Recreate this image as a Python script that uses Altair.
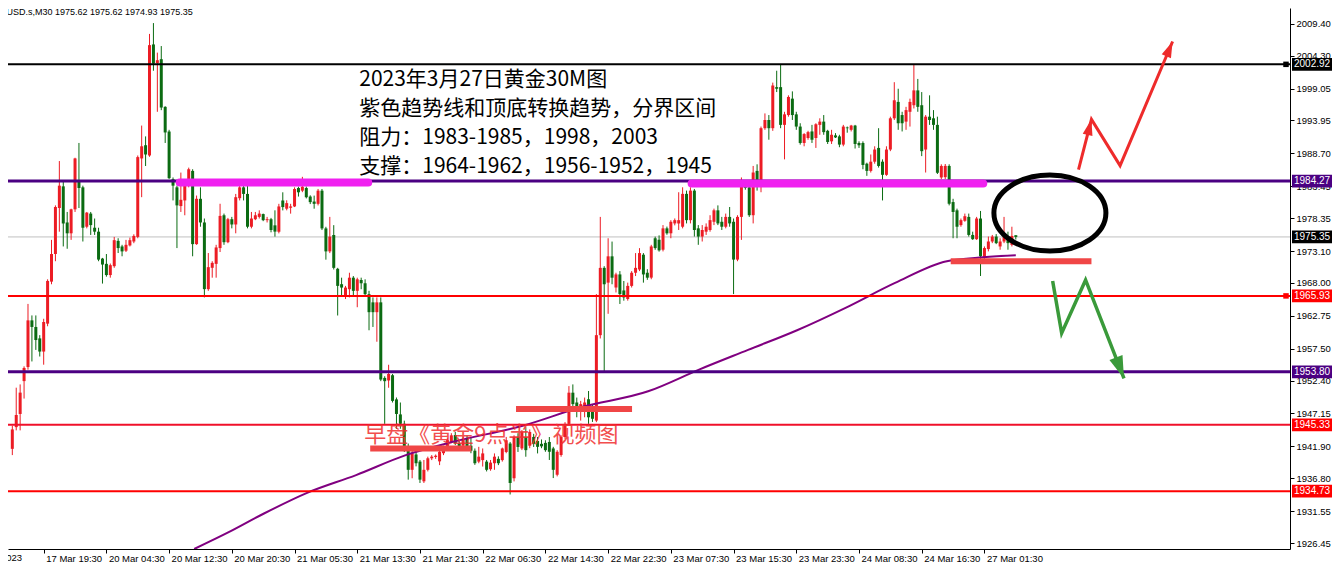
import altair as alt
import pandas as pd

# ---------------- candle data (XAUUSD M30), bar index -1 .. 255 ----------------
FIRST_BAR = -1
opens = [
1941.5, 1944.97, 1947.07, 1952.32, 1954.57, 1962.02, 1960.97, 1959.14, 1957.04, 1961.5,
1968.21, 1972.62, 1979.97, 1983.43, 1977.66, 1975.93, 1979.76, 1984.3, 1983.27, 1976.98,
1979.08, 1976.82, 1976.19, 1971.89, 1971.05, 1969.26, 1970.68, 1974.72, 1973.83, 1973.15,
1973.99, 1974.62, 1975.35, 1987.89, 1990.0, 1988.36, 2006.1, 2003.11, 2003.74, 1996.13,
1992.19, 1984.59, 1983.27, 1980.28, 1981.18, 1983.54, 1985.9, 1974.2, 1981.44, 1977.66,
1967.01, 1970.42, 1971.05, 1973.57, 1978.81, 1974.51, 1978.18, 1977.34, 1981.54, 1983.27,
1982.22, 1976.98, 1978.18, 1978.55, 1979.0, 1978.03, 1978.18, 1977.2, 1976.18, 1981.17,
1979.86, 1980.01, 1980.22, 1983.16, 1982.74, 1983.16, 1981.8, 1981.0, 1980.64, 1982.74,
1976.71, 1973.04, 1975.66, 1970.26, 1967.8, 1965.95, 1967.0, 1968.84, 1966.74, 1968.47,
1967.95, 1966.21, 1964.9, 1963.33, 1964.9, 1952.83, 1952.42, 1953.26, 1949.4, 1947.0,
1945.5, 1941.82, 1938.15, 1940.6, 1939.46, 1936.31, 1938.15, 1939.99, 1940.2, 1939.5,
1940.8, 1941.6, 1942.6, 1943.7, 1942.4, 1942.0, 1943.1, 1942.0, 1941.2, 1939.46,
1939.7, 1939.46, 1938.25, 1939.2, 1939.9, 1939.7, 1941.0, 1942.35, 1936.8, 1943.4,
1941.56, 1943.39, 1942.0, 1943.4, 1942.76, 1942.3, 1942.45, 1942.6, 1941.56, 1937.36,
1940.51, 1943.39, 1945.49, 1950.47, 1948.9, 1947.59, 1948.11, 1949.42, 1947.6, 1946.01,
1959.66, 1970.41, 1968.05, 1972.25, 1967.27, 1969.36, 1966.8, 1965.43, 1967.53, 1969.63,
1970.15, 1972.51, 1969.63, 1968.85, 1975.14, 1974.9, 1973.31, 1976.72, 1975.93, 1977.51,
1977.5, 1976.98, 1982.23, 1978.03, 1982.75, 1976.72, 1975.41, 1976.19, 1976.46, 1977.77,
1979.6, 1977.77, 1976.98, 1978.55, 1977.77, 1971.73, 1978.55, 1983.54, 1983.28, 1978.82,
1985.9, 1984.33, 1992.72, 1994.03, 1992.72, 1999.28, 1999.28, 1993.25, 1994.82, 1997.44,
1994.93, 1992.98, 1990.36, 1991.15, 1992.2, 1991.15, 1993.25, 1993.77, 1992.3, 1990.62,
1991.57, 1991.41, 1990.1, 1992.83, 1992.46, 1993.14, 1990.36, 1990.36, 1987.05, 1985.9,
1987.37, 1989.57, 1987.37, 1985.27, 1989.31, 1994.3, 1996.92, 1994.82, 1993.77, 1995.34,
1996.39, 1998.76, 1996.39, 1989.31, 1994.56, 1994.3, 1993.25, 1984.85, 1984.9, 1986.69,
1980.92, 1979.6, 1977.24, 1977.93, 1978.55, 1975.67, 1974.99, 1978.29, 1971.99, 1973.41,
1974.62, 1975.41, 1973.83, 1974.62, 1975.41, 1974.09, 1975.62,
]
highs = [
1945.2, 1951.27, 1951.79, 1954.68, 1964.65, 1962.81, 1962.81, 1959.66, 1962.28, 1968.58,
1974.88, 1980.39, 1987.47, 1984.32, 1979.34, 1979.86, 1988.0, 1990.36, 1983.54, 1979.34,
1979.34, 1978.29, 1976.82, 1972.0, 1972.62, 1971.1, 1975.35, 1975.14, 1974.09, 1974.88,
1975.24, 1975.77, 1988.36, 1993.14, 1991.41, 2007.78, 2009.51, 2004.79, 2005.84, 1996.23,
1992.46, 1984.85, 1983.54, 1985.63, 1983.8, 1986.42, 1986.16, 1981.96, 1983.27, 1978.29,
1972.78, 1971.47, 1974.09, 1980.65, 1979.08, 1978.39, 1978.55, 1982.22, 1983.8, 1983.54,
1983.54, 1979.34, 1979.34, 1979.6, 1979.08, 1978.55, 1978.39, 1979.6, 1980.64, 1982.48,
1981.2, 1980.64, 1983.27, 1983.37, 1984.95, 1983.4, 1982.0, 1981.95, 1983.01, 1983.01,
1976.97, 1978.55, 1977.23, 1970.41, 1968.84, 1967.53, 1969.63, 1969.1, 1968.84, 1968.84,
1968.58, 1966.74, 1965.69, 1965.69, 1965.69, 1953.1, 1954.93, 1953.46, 1949.7, 1948.9,
1946.0, 1942.35, 1941.3, 1941.2, 1939.72, 1939.72, 1940.25, 1940.5, 1940.6, 1941.3,
1942.0, 1943.2, 1944.0, 1944.2, 1943.0, 1943.4, 1943.6, 1943.3, 1941.56, 1941.82,
1941.56, 1939.72, 1939.72, 1940.77, 1940.3, 1941.7, 1943.4, 1942.6, 1943.66, 1944.0,
1944.5, 1944.96, 1944.6, 1943.9, 1943.39, 1943.0, 1942.87, 1943.39, 1941.82, 1941.29,
1943.65, 1945.76, 1951.52, 1951.79, 1949.69, 1949.16, 1949.69, 1950.74, 1948.64, 1966.22,
1978.55, 1970.68, 1975.14, 1974.61, 1969.63, 1969.89, 1968.31, 1968.05, 1969.89, 1972.77,
1973.56, 1972.77, 1970.2, 1974.09, 1975.4, 1975.6, 1977.24, 1977.0, 1978.03, 1978.3,
1982.49, 1983.28, 1982.75, 1983.28, 1983.01, 1977.24, 1977.24, 1977.51, 1978.82, 1979.87,
1980.39, 1978.55, 1979.08, 1980.13, 1978.29, 1978.82, 1984.85, 1984.0, 1984.06, 1986.69,
1986.95, 1992.98, 1995.08, 1994.82, 2000.0, 2001.9, 2002.95, 1995.34, 1997.97, 1998.6,
1995.34, 1993.51, 1991.93, 1992.3, 1993.25, 1993.51, 1994.3, 1994.82, 1992.46, 1992.46,
1991.93, 1991.67, 1993.25, 1992.98, 1993.25, 1993.25, 1990.62, 1990.62, 1987.21, 1988.52,
1989.83, 1992.72, 1987.74, 1989.83, 1994.56, 2000.07, 1999.02, 1995.34, 1996.13, 1997.44,
2002.95, 2000.59, 1998.49, 1994.82, 1997.97, 1995.61, 1994.56, 1986.95, 1987.0, 1986.95,
1981.44, 1979.87, 1978.29, 1979.08, 1979.08, 1976.19, 1978.55, 1979.5, 1973.83, 1975.41,
1975.67, 1975.8, 1975.14, 1978.55, 1976.19, 1976.98, 1975.62,
]
lows = [
1940.5, 1944.45, 1944.45, 1949.53, 1954.15, 1955.46, 1957.3, 1956.25, 1954.94, 1961.08,
1967.79, 1971.47, 1976.19, 1973.83, 1973.46, 1974.88, 1979.34, 1979.97, 1974.62, 1976.72,
1975.67, 1975.67, 1971.47, 1967.9, 1969.0, 1968.84, 1970.42, 1972.78, 1972.26, 1972.94,
1973.83, 1974.35, 1975.14, 1981.7, 1986.68, 1988.15, 2001.9, 1995.34, 1995.6, 1990.36,
1984.59, 1981.18, 1973.57, 1979.34, 1978.81, 1983.27, 1972.26, 1974.09, 1976.98, 1965.69,
1966.74, 1968.84, 1968.84, 1972.94, 1974.09, 1974.35, 1976.72, 1975.93, 1981.18, 1981.18,
1976.72, 1976.72, 1978.03, 1978.29, 1977.87, 1977.66, 1976.09, 1975.4, 1975.92, 1979.59,
1979.6, 1979.07, 1980.12, 1981.8, 1982.5, 1981.5, 1980.6, 1979.86, 1980.38, 1976.45,
1971.72, 1972.77, 1970.15, 1962.8, 1965.95, 1965.43, 1965.69, 1965.95, 1964.12, 1967.0,
1965.95, 1960.44, 1960.97, 1958.61, 1952.31, 1945.49, 1951.26, 1948.9, 1944.71, 1944.71,
1941.0, 1936.58, 1936.8, 1938.7, 1936.05, 1936.05, 1937.89, 1939.7, 1939.9, 1938.9,
1940.5, 1941.3, 1942.4, 1942.1, 1941.5, 1941.6, 1941.5, 1940.8, 1938.94, 1939.2,
1938.67, 1937.89, 1938.0, 1938.15, 1938.9, 1939.46, 1940.8, 1934.21, 1936.3, 1941.0,
1941.3, 1940.24, 1941.6, 1941.8, 1940.77, 1941.6, 1941.03, 1939.72, 1936.83, 1937.1,
1940.24, 1943.1, 1945.23, 1948.11, 1946.54, 1946.01, 1946.54, 1945.49, 1945.8, 1945.76,
1959.13, 1953.62, 1963.07, 1967.79, 1966.48, 1964.64, 1965.17, 1965.17, 1967.27, 1969.1,
1969.89, 1968.05, 1968.5, 1968.59, 1973.3, 1973.0, 1973.04, 1975.7, 1975.14, 1977.2,
1976.46, 1976.72, 1977.51, 1977.51, 1975.41, 1974.09, 1974.62, 1975.67, 1976.19, 1977.24,
1977.24, 1976.46, 1976.72, 1976.98, 1966.22, 1971.47, 1974.88, 1982.9, 1978.55, 1977.51,
1982.75, 1982.49, 1992.46, 1990.88, 1992.3, 1998.49, 1992.72, 1987.74, 1994.56, 1994.03,
1992.46, 1990.1, 1989.83, 1990.88, 1990.36, 1989.57, 1991.67, 1991.67, 1990.2, 1990.2,
1991.15, 1989.68, 1989.83, 1992.0, 1992.2, 1989.47, 1989.57, 1986.16, 1985.11, 1985.64,
1987.05, 1986.43, 1981.18, 1985.11, 1989.05, 1994.03, 1992.46, 1992.2, 1992.46, 1992.98,
1995.87, 1995.34, 1988.26, 1985.64, 1993.25, 1992.46, 1985.4, 1984.59, 1984.6, 1980.39,
1975.14, 1975.14, 1976.98, 1977.77, 1975.41, 1974.88, 1974.88, 1969.11, 1971.21, 1973.04,
1974.36, 1974.2, 1973.31, 1974.36, 1973.31, 1973.83, 1974.93,
]
closes = [
1944.6, 1946.91, 1950.48, 1954.42, 1962.02, 1960.97, 1958.88, 1957.04, 1961.76, 1968.32,
1972.62, 1980.13, 1983.54, 1977.5, 1975.93, 1979.76, 1987.89, 1983.17, 1976.82, 1979.23,
1977.24, 1976.19, 1971.73, 1970.94, 1969.26, 1970.84, 1974.83, 1973.57, 1973.04, 1974.09,
1974.83, 1975.51, 1988.1, 1989.83, 1988.52, 2005.99, 2003.05, 2003.58, 1996.02, 1992.04,
1984.74, 1983.54, 1980.39, 1981.28, 1983.54, 1986.16, 1974.2, 1981.44, 1977.66, 1967.01,
1970.52, 1971.21, 1973.67, 1978.71, 1974.51, 1978.18, 1977.34, 1981.7, 1983.27, 1982.22,
1976.98, 1978.29, 1978.81, 1979.08, 1978.03, 1978.18, 1976.46, 1976.2, 1980.22, 1980.12,
1980.75, 1980.22, 1983.01, 1982.48, 1983.37, 1981.69, 1980.91, 1980.64, 1982.74, 1976.71,
1973.04, 1975.4, 1970.41, 1967.53, 1967.26, 1967.26, 1968.84, 1966.74, 1968.58, 1967.95,
1966.21, 1963.33, 1963.33, 1964.9, 1952.57, 1952.31, 1953.46, 1949.16, 1947.07, 1945.5,
1941.82, 1938.15, 1940.77, 1939.2, 1936.58, 1938.15, 1939.99, 1940.25, 1940.4, 1941.03,
1941.8, 1942.9, 1943.66, 1942.4, 1941.8, 1943.1, 1941.8, 1941.2, 1939.2, 1940.25,
1940.77, 1938.15, 1939.3, 1940.25, 1939.2, 1941.56, 1942.87, 1936.05, 1943.4, 1941.8,
1944.18, 1941.29, 1944.2, 1942.3, 1941.82, 1941.9, 1941.29, 1941.03, 1938.15, 1941.03,
1943.39, 1945.49, 1950.47, 1948.64, 1948.01, 1948.64, 1948.9, 1946.54, 1946.3, 1959.66,
1970.41, 1967.79, 1972.25, 1968.84, 1969.36, 1966.22, 1965.69, 1967.53, 1969.63, 1970.41,
1972.77, 1969.36, 1968.84, 1973.83, 1973.57, 1973.2, 1976.72, 1975.93, 1977.77, 1978.03,
1978.03, 1982.23, 1978.03, 1982.75, 1976.46, 1975.41, 1976.46, 1976.98, 1978.03, 1979.6,
1977.51, 1976.98, 1978.55, 1977.51, 1971.73, 1978.55, 1983.54, 1983.2, 1978.82, 1985.64,
1984.33, 1992.72, 1994.03, 1992.72, 1999.54, 1999.02, 1993.25, 1994.93, 1997.71, 1994.82,
1992.98, 1990.36, 1991.78, 1992.09, 1990.88, 1993.35, 1993.77, 1992.09, 1990.52, 1991.67,
1991.25, 1990.1, 1992.98, 1992.72, 1993.14, 1990.2, 1989.99, 1986.85, 1985.9, 1987.37,
1989.31, 1986.69, 1985.27, 1989.31, 1994.3, 1997.18, 1993.51, 1993.51, 1995.61, 1996.92,
1998.76, 1996.13, 1989.05, 1994.56, 1994.03, 1993.25, 1985.6, 1986.69, 1986.7, 1980.65,
1979.34, 1976.98, 1978.03, 1978.66, 1975.67, 1974.99, 1978.29, 1972.26, 1973.57, 1974.62,
1975.41, 1974.36, 1974.62, 1975.41, 1974.36, 1975.51, 1975.35,
]

# purple moving average (read at sparse bars)
ma_bars = [45.4, 54.2, 63.2, 74.2, 86.7, 99.2, 111.7, 129.2, 144.2, 161.2, 174.2, 186.7, 199.2, 211.7, 224.2, 237.4, 246.7, 255]
ma_vals = [1925.50, 1928.18, 1931.17, 1934.47, 1937.31, 1940.46, 1942.66, 1945.18, 1948.17, 1950.69, 1954.16, 1957.31, 1960.45, 1964.07, 1968.01, 1971.47, 1972.10, 1972.41]

# horizontal levels
level_prices = [2002.92, 1984.27, 1965.93, 1953.80, 1945.33, 1934.73]
level_colors = ["#000000", "#4b0082", "#ff0000", "#4b0082", "#f0102a", "#ff0000"]
level_widths = [2, 3, 2, 3, 2, 2]
bid_price = 1975.35
marker_prices = [2002.92, 1965.93]
marker_colors = ["#000000", "#ff0000"]

# right-axis price tags
tag_prices = [2002.92, 1984.27, 1975.35, 1965.93, 1953.80, 1945.33, 1934.73]
tag_colors = ["#000000", "#4b0082", "#000000", "#ff0000", "#4b0082", "#ff0000", "#ff0000"]

# axis ticks
y_ticks = [2009.40, 2004.30, 1999.05, 1993.95, 1988.70, 1983.45, 1978.35, 1973.10, 1968.00,
           1962.75, 1957.50, 1952.40, 1947.15, 1941.90, 1936.80, 1931.55, 1926.45]
x_tick_bars = [7, 23, 39, 55, 71, 87, 103, 119, 135, 151, 167, 183, 199, 215, 231, 247]
x_tick_labels = ["17 Mar 19:30", "20 Mar 04:30", "20 Mar 12:30", "20 Mar 20:30", "21 Mar 05:30",
                 "21 Mar 13:30", "21 Mar 21:30", "22 Mar 06:30", "22 Mar 14:30", "22 Mar 22:30",
                 "23 Mar 07:30", "23 Mar 15:30", "23 Mar 23:30", "24 Mar 08:30", "24 Mar 16:30",
                 "27 Mar 01:30"]

# drawn annotations (bar index, price)
magenta_x1 = [41.7, 172.3]
magenta_x2 = [89.8, 246.7]
magenta_y = [1984.06, 1983.90]
redbar_x1 = [90.3, 127.5, 238.4]
redbar_x2 = [116.1, 157.1, 274.3]
redbar_y = [1941.56, 1947.86, 1971.47]
ellipse_center = (263.7, 1979.18)
red_arrow_x = [271.0, 274.3, 281.6, 295.0]
red_arrow_y = [1986.11, 1994.13, 1986.74, 2006.57]
green_arrow_x = [264.4, 266.7, 272.8, 282.6]
green_arrow_y = [1968.32, 1959.98, 1968.48, 1952.74]
head_x = [274.3, 295.0, 282.6]
head_y = [1994.13, 2006.57, 1952.74]
head_angle = [14, 23, 159]
head_size = [400, 400, 784]
head_color = ["#ee2b2b", "#ee2b2b", "#3a9a3a"]

note_lines = ["2023年3月27日黄金30M图", "紫色趋势线和顶底转换趋势，分界区间",
              "阻力：1983-1985，1998，2003", "支撑：1964-1962，1956-1952，1945"]
note_y = [2000.43, 1995.71, 1991.14, 1986.58]
note_x = 87.5
overlay_text = "早盘《黄金9点半》视频图"
overlay_pos = (88.8, 1943.76)
header_text = "XAUUSD.s,M30 1975.62 1975.62 1974.93 1975.35"

# ---------------- build chart ----------------
W, H = 1282, 541
UP, DOWN = "#ec1c24", "#0b6b12"
AX_FONT = "Liberation Sans"

bars = list(range(FIRST_BAR, FIRST_BAR + len(opens)))
candles = pd.DataFrame({"bar": bars, "open": opens, "high": highs, "low": lows, "close": closes})
candles["dir"] = ["up" if c >= o else "down" for o, c in zip(opens, closes)]

xs = alt.Scale(domain=[-0.825, 323.675], nice=False, zero=False)
ys = alt.Scale(domain=[1925.50, 2011.92], nice=False, zero=False)
dir_color = alt.Color("dir:N", scale=alt.Scale(domain=["up", "down"], range=[UP, DOWN]), legend=None)

label_expr = "[" + ",".join("'%s'" % s for s in x_tick_labels) + "][indexof(" + str(x_tick_bars) + ", datum.value)]"
x_axis = alt.Axis(values=x_tick_bars, labelExpr=label_expr, orient="bottom", tickSize=4,
                  labelAlign="left", labelPadding=0, labelOffset=2, labelFontSize=9.5, labelFont=AX_FONT,
                  labelColor="black", tickColor="black", domainColor="black", grid=False, title=None,
                  labelOverlap=False, labelFlush=False, labelBound=False)
y_axis = alt.Axis(values=y_ticks, format=".2f", orient="right", tickSize=4, labelPadding=2,
                  labelFontSize=9.5, labelFont=AX_FONT, labelColor="black", tickColor="black",
                  domainColor="black", grid=False, title=None, labelOverlap=False, labelFlush=False,
                  labelBound=False)


def X(field):
    return alt.X(field, type="quantitative", scale=xs, axis=x_axis)


def Y(field):
    return alt.Y(field, type="quantitative", scale=ys, axis=y_axis)


bid = alt.Chart(pd.DataFrame({"p": [bid_price]})).mark_rule(color="#c0c0c0", strokeWidth=1).encode(y=Y("p"))

wicks = alt.Chart(candles).mark_rule(strokeWidth=1).encode(
    x=X("bar"), y=Y("low"), y2="high:Q", color=dir_color)
bodies = alt.Chart(candles).mark_bar(size=3).encode(
    x=X("bar"), y=Y("open"), y2="close:Q", color=dir_color)

ma = alt.Chart(pd.DataFrame({"bar": ma_bars, "v": ma_vals})).mark_line(
    color="#800080", strokeWidth=2, interpolate="monotone", clip=True).encode(x=X("bar"), y=Y("v"))

levels = alt.Chart(pd.DataFrame({"p": level_prices, "c": level_colors, "w": level_widths})).mark_rule().encode(
    y=Y("p"), color=alt.Color("c:N", scale=None), strokeWidth=alt.StrokeWidth("w:Q", scale=None))

markers = alt.Chart(pd.DataFrame({"p": marker_prices, "c": marker_colors})).mark_point(
    shape="square", size=30, filled=True, opacity=1).encode(
    x=alt.value(W - 4), y=Y("p"), color=alt.Color("c:N", scale=None))

magenta = alt.Chart(pd.DataFrame({"x1": magenta_x1, "x2": magenta_x2, "y": magenta_y})).mark_rule(
    color="#f020f0", strokeWidth=8, strokeCap="round").encode(x=X("x1"), x2="x2:Q", y=Y("y"))

redbars = alt.Chart(pd.DataFrame({"x1": redbar_x1, "x2": redbar_x2, "y": redbar_y})).mark_rule(
    color="#f04646", strokeWidth=6).encode(x=X("x1"), x2="x2:Q", y=Y("y"))

ELLIPSE = "M -1 0 A 1 0.679 0 1 1 1 0 A 1 0.679 0 1 1 -1 0 Z"
ellipse = alt.Chart(pd.DataFrame({"x": [ellipse_center[0]], "y": [ellipse_center[1]]})).mark_point(
    shape=ELLIPSE, size=12544, filled=False, strokeWidth=5, color="black", opacity=1).encode(x=X("x"), y=Y("y"))

red_arrow = alt.Chart(pd.DataFrame({"x": red_arrow_x, "y": red_arrow_y, "o": list(range(len(red_arrow_x)))})).mark_line(
    color="#ee2b2b", strokeWidth=3).encode(x=X("x"), y=Y("y"), order="o:Q")
green_arrow = alt.Chart(pd.DataFrame({"x": green_arrow_x, "y": green_arrow_y, "o": list(range(len(green_arrow_x)))})).mark_line(
    color="#3a9a3a", strokeWidth=3.5).encode(x=X("x"), y=Y("y"), order="o:Q")

HEAD = "M 0 0 L 0.5 1.6 L -0.5 1.6 Z"
heads = alt.Chart(pd.DataFrame({"x": head_x, "y": head_y, "a": head_angle, "s": head_size, "c": head_color})).mark_point(
    shape=HEAD, filled=True, opacity=1).encode(
    x=X("x"), y=Y("y"),
    angle=alt.Angle("a:Q", scale=None), size=alt.Size("s:Q", scale=None),
    color=alt.Color("c:N", scale=None))

notes = alt.Chart(pd.DataFrame({"x": [note_x] * len(note_lines), "y": note_y, "t": note_lines})).mark_text(
    align="left", baseline="middle", font="Noto Sans CJK SC", fontSize=21, color="black").encode(
    x=X("x"), y=Y("y"), text="t:N")

overlay = alt.Chart(pd.DataFrame({"x": [overlay_pos[0]], "y": [overlay_pos[1]], "t": [overlay_text]})).mark_text(
    align="left", baseline="middle", font="Noto Sans CJK SC", fontSize=22, color="#f03030", opacity=0.85).encode(
    x=X("x"), y=Y("y"), text="t:N")

BOX = "M -1 -0.32 L 1 -0.32 L 1 0.32 L -1 0.32 Z"
tags_df = pd.DataFrame({"p": tag_prices, "c": tag_colors, "t": ["%.2f" % p for p in tag_prices]})
tag_boxes = alt.Chart(tags_df).mark_point(shape=BOX, size=1600, filled=True, opacity=1, strokeWidth=0).encode(
    x=alt.value(W + 22), y=Y("p"), color=alt.Color("c:N", scale=None))
tag_text = alt.Chart(tags_df).mark_text(align="left", baseline="middle", font=AX_FONT, fontSize=10, color="white").encode(
    x=alt.value(W + 4), y=Y("p"), text="t:N")

header = alt.Chart(pd.DataFrame({"t": [header_text]})).mark_text(
    align="left", baseline="top", font=AX_FONT, fontSize=9, color="black").encode(
    x=alt.value(-20), y=alt.value(0), text="t:N")
first_date = alt.Chart(pd.DataFrame({"t": ["17 Mar 2023"]})).mark_text(
    align="right", baseline="top", font=AX_FONT, fontSize=9.5, color="black").encode(
    x=alt.value(14), y=alt.value(H + 4), text="t:N")

chart = alt.layer(
    bid, wicks, bodies, ma, levels, markers, magenta, redbars, ellipse, red_arrow, green_arrow, heads,
    notes, overlay, tag_boxes, tag_text, header, first_date
).properties(
    width=W, height=H,
    padding={"left": 0, "top": 0, "right": 42, "bottom": 15},
    autosize=alt.AutoSizeParams(type="none"),
    background="white",
).configure_view(stroke=None)

chart.save("out.html", embed_options={"renderer": "svg", "actions": False})
